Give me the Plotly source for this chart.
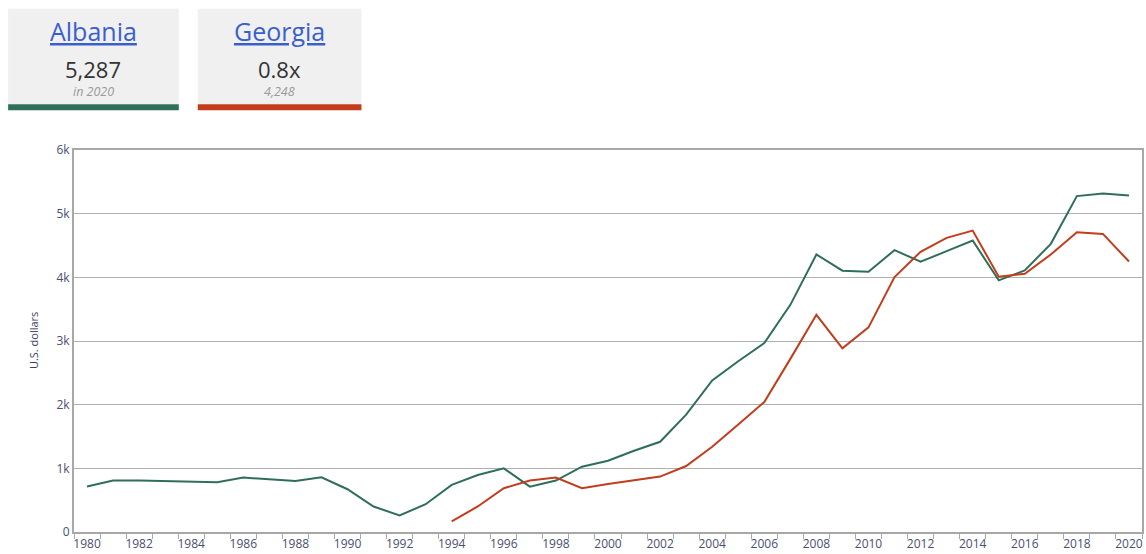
import plotly.graph_objects as go

years = list(range(1980, 2021))
albania = [715, 808, 810, 800, 780, 780, 855, 828, 800, 860,
           672, 400, 260, 437, 740, 895, 1000, 713, 808, 1026,
           1120, 1276, 1417, 1843, 2380, 2682, 2969, 3568, 4359, 4104,
           4089, 4427, 4245, 4411, 4578, 3953, 4109, 4526, 5276, 5318,
           5287]
georgia = [None] * 14 + [167, 401, 688, 808, 855, 688,
           755, 808, 870, 1036, 1339, 1688, 2042, 2719, 3411, 2886,
           3214, 4005, 4401, 4620, 4734, 4010, 4057, 4359, 4708, 4682,
           4248]
ytick_vals = [0, 1000, 2000, 3000, 4000, 5000, 6000]
ytick_text = ["0", "1k", "2k", "3k", "4k", "5k", "6k"]
xtick_vals = list(range(1980, 2021, 2))

GREEN = "#2f6f58"
RED = "#c33c1c"
FONT = "Open Sans"

W, H = 1146, 554
ML = 74
MT = 150
PW = 1070
PH = 384
MR = W - ML - PW
MB = H - MT - PH


def px(x):
    return (x - ML) / PW


def py(y):
    return (MT + PH - y) / PH


fig = go.Figure()
fig.add_trace(go.Scatter(x=years, y=albania, mode="lines", name="Albania",
                         line=dict(color=GREEN, width=2)))
fig.add_trace(go.Scatter(x=years, y=georgia, mode="lines", name="Georgia",
                         line=dict(color=RED, width=2)))

shapes = []
annotations = []
cards = [
    (8, 179, "Albania", "5,287", "in 2020", GREEN),
    (198, 362, "Georgia", "0.8x", "4,248", RED),
]
for x0, x1, name, val, sub, col in cards:
    shapes.append(dict(type="rect", xref="paper", yref="paper",
                       x0=px(x0), x1=px(x1), y0=py(104), y1=py(8),
                       fillcolor="#f0f0f0", line=dict(width=0), layer="below"))
    shapes.append(dict(type="rect", xref="paper", yref="paper",
                       x0=px(x0), x1=px(x1), y0=py(110), y1=py(104),
                       fillcolor=col, line=dict(width=0)))
    cx = px((x0 + x1) / 2)
    annotations.append(dict(xref="paper", yref="paper", x=cx, y=py(30),
                            text="<u>" + name + "</u>", showarrow=False,
                            font=dict(family=FONT, size=25, color="#3a5fcd"),
                            xanchor="center", yanchor="middle"))
    annotations.append(dict(xref="paper", yref="paper", x=cx, y=py(69),
                            text=val, showarrow=False,
                            font=dict(family=FONT, size=22, color="#333333"),
                            xanchor="center", yanchor="middle"))
    annotations.append(dict(xref="paper", yref="paper", x=cx, y=py(91),
                            text="<i>" + sub + "</i>", showarrow=False,
                            font=dict(family=FONT, size=12.5, color="#9a9a9a"),
                            xanchor="center", yanchor="middle"))

annotations.append(dict(xref="paper", yref="paper", x=px(33), y=py(342),
                        text="U.S. dollars", showarrow=False, textangle=-90,
                        font=dict(family=FONT, size=11, color="#3b3f5c"),
                        xanchor="center", yanchor="middle"))

fig.update_layout(
    width=W, height=H,
    margin=dict(l=ML, r=MR, t=MT, b=MB),
    paper_bgcolor="white", plot_bgcolor="white",
    showlegend=False,
    font=dict(family=FONT, size=12, color="#4a4f6e"),
    shapes=shapes, annotations=annotations,
)
fig.update_xaxes(
    range=[1979.5, 2020.5], tickvals=xtick_vals,
    ticktext=[str(v) for v in xtick_vals],
    ticks="", showgrid=False, zeroline=False,
    showline=True, linecolor="#a8a8a8", linewidth=2, mirror=True,
    tickfont=dict(size=12, color="#4a4f6e"),
    minor=dict(tick0=1979.5, dtick=1, ticks="outside", ticklen=5,
               tickcolor="#a8a8a8", tickwidth=1, showgrid=False),
)
fig.update_yaxes(
    range=[0, 6000], tickvals=ytick_vals, ticktext=ytick_text,
    showgrid=True, gridcolor="#b0b0b0", gridwidth=1, zeroline=False,
    showline=True, linecolor="#a8a8a8", linewidth=2, mirror=True,
    ticks="", tickfont=dict(size=12, color="#4a4f6e"),
)

fig.write_html(
    "out.html",
    config={"displayModeBar": False},
    post_script="document.body.style.margin='0';"
                "document.documentElement.style.overflow='hidden';"
                "document.body.style.overflow='hidden';",
)
